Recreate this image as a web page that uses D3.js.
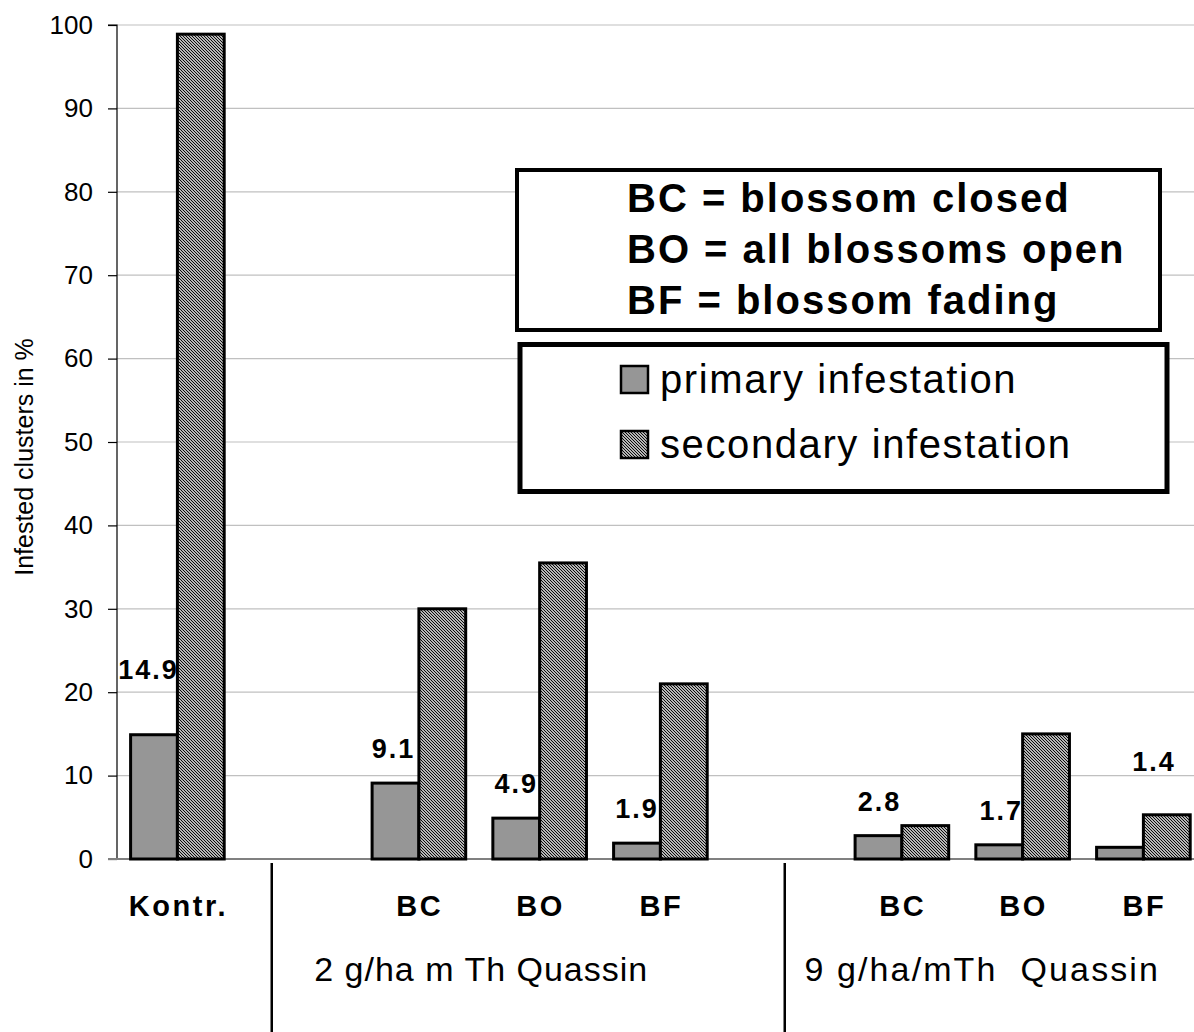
<!DOCTYPE html>
<html>
<head>
<meta charset="utf-8">
<script src="https://cdn.jsdelivr.net/npm/d3@7"></script>
<style>
  html, body { margin: 0; padding: 0; background: #fff; }
  svg { display: block; font-family: "Liberation Sans", Arial, sans-serif; }
</style>
</head>
<body>
<svg id="chart" width="1194" height="1032"></svg>
<script>
// ---- data ----
const slotKeys   = ["K", "gap1", "BC2", "BO2", "BF2", "gap2", "BC9", "BO9", "BF9"];
const slotLabels = ["Kontr.", "", "BC", "BO", "BF", "", "BC", "BO", "BF"];
const primary    = [14.9, null, 9.1, 4.9, 1.9, null, 2.8, 1.7, 1.4];
const secondary  = [98.9, null, 30.0, 35.5, 21.0, null, 4.0, 15.0, 5.3];
const seriesKeys = ["primary", "secondary"];
const seriesNames = ["primary infestation", "secondary infestation"];
const groupLabels = ["2 g/ha m Th Quassin", "9 g/ha/mTh  Quassin"];
const yTicks = [0, 10, 20, 30, 40, 50, 60, 70, 80, 90, 100];
const yTitle = "Infested clusters in %";
const noteLines = ["BC = blossom closed", "BO = all blossoms open", "BF = blossom fading"];

// label placement tweaks (layout, not data)
const labelLift  = [6.7, 0, 3, 3, 3, 0, 3, 3, 9.1];
const labelShift = [-5.5, 0, -2, 0, 0, 0, 1, 2, 34];

// ---- layout ----
const svg = d3.select("#chart");
const axisX = 117, y0px = 859, y100px = 25;
const slotW = 120.75;

const x0 = d3.scaleBand().domain(slotKeys).range([axisX, axisX + slotW * slotKeys.length]).padding(0);
const x1 = d3.scaleBand().domain(seriesKeys).range([13.6, 107.2]).padding(0);
const y = d3.scaleLinear().domain([0, 100]).range([y0px, y100px]);

// pattern
const defs = svg.append("defs");
const pat = defs.append("pattern").attr("id", "hatch").attr("patternUnits", "userSpaceOnUse")
  .attr("width", 3).attr("height", 3);
pat.append("rect").attr("width", 3).attr("height", 3).attr("fill", "#ffffff");
pat.append("path").attr("d", "M-1,-1 L4,4 M-1,2 L1,4 M2,-1 L4,1")
  .attr("stroke", "#000").attr("stroke-width", 1.1);

svg.append("rect").attr("width", 1194).attr("height", 1032).attr("fill", "#fff");

// gridlines
svg.append("g").selectAll("line").data(yTicks.filter(d => d > 0)).join("line")
  .attr("x1", axisX).attr("x2", 1194)
  .attr("y1", d => y(d)).attr("y2", d => y(d))
  .attr("stroke", "#c0c0c0").attr("stroke-width", 1.2);

// y axis
const yAxis = d3.axisLeft(y).tickValues(yTicks).tickSize(9).tickPadding(15).tickFormat(d3.format("d"));
const ga = svg.append("g").attr("transform", `translate(${axisX},0)`).call(yAxis);
ga.select(".domain").attr("stroke", "#000").attr("stroke-width", 1.2).attr("d", `M-9,${y100px}H0V${y0px}`);
ga.selectAll(".tick line").attr("stroke", "#000").attr("stroke-width", 1.2);
ga.selectAll(".tick text").attr("font-size", 26).attr("fill", "#000")
  .attr("font-family", "'Liberation Sans', Arial, sans-serif");

// baseline
svg.append("line").attr("x1", axisX - 9).attr("x2", 1194).attr("y1", y(0)).attr("y2", y(0))
  .attr("stroke", "#808080").attr("stroke-width", 2.2);

// y title
svg.append("text").attr("transform", `translate(33,457) rotate(-90)`)
  .attr("text-anchor", "middle").attr("font-size", 25).attr("fill", "#000").text(yTitle);

// bars
const rows = slotKeys.map((k, i) => ({ key: k, i, primary: primary[i], secondary: secondary[i] }))
  .filter(r => r.primary != null);
const gBars = svg.append("g");
rows.forEach(r => {
  seriesKeys.forEach(s => {
    gBars.append("rect")
      .attr("x", x0(r.key) + x1(s))
      .attr("y", y(r[s]))
      .attr("width", x1.bandwidth())
      .attr("height", y(0) - y(r[s]))
      .attr("fill", s === "primary" ? "#969696" : "url(#hatch)")
      .attr("stroke", "#000").attr("stroke-width", 3);
  });
});

// data labels (primary values)
svg.append("g").selectAll("text").data(rows).join("text")
  .attr("x", r => x0(r.key) + x1("primary") + x1.bandwidth() / 2 + labelShift[r.i])
  .attr("y", r => y(r.primary + labelLift[r.i]))
  .attr("text-anchor", "middle").attr("font-size", 27).attr("font-weight", "bold")
  .attr("letter-spacing", 2).attr("fill", "#000")
  .text(r => d3.format(".1f")(r.primary));

// category labels
svg.append("g").selectAll("text").data(slotKeys.filter((k, i) => slotLabels[i])).join("text")
  .attr("x", k => x0(k) + x0.bandwidth() / 2 + 1)
  .attr("y", 916)
  .attr("text-anchor", "middle").attr("font-size", 29).attr("font-weight", "bold")
  .attr("letter-spacing", 2.6).attr("fill", "#000")
  .text(k => slotLabels[slotKeys.indexOf(k)]);

// group labels
const groupSpans = [["gap1", "BF2"], ["gap2", "BF9"]];
const groupDx = [2, 20];
const groupSpacing = [1, 2.1];
svg.append("g").selectAll("text").data(groupLabels).join("text")
  .attr("x", (d, i) => (x0(groupSpans[i][0]) + x0(groupSpans[i][1]) + x0.bandwidth()) / 2 + groupDx[i])
  .attr("y", 981)
  .attr("text-anchor", "middle").attr("font-size", 34).attr("letter-spacing", (d, i) => groupSpacing[i])
  .attr("fill", "#000").style("white-space", "pre")
  .text(d => d);

// dividers
const dividerX = [x0("gap1") + 34, x0("gap2") + 64];
svg.append("g").selectAll("line").data(dividerX).join("line")
  .attr("x1", d => d).attr("x2", d => d).attr("y1", 863).attr("y2", 1032)
  .attr("stroke", "#000").attr("stroke-width", 2.5);

// note box
svg.append("rect").attr("x", 517).attr("y", 170).attr("width", 643).attr("height", 160)
  .attr("fill", "#fff").attr("stroke", "#000").attr("stroke-width", 4);
svg.append("g").selectAll("text").data(noteLines).join("text")
  .attr("x", 627).attr("y", (d, i) => 212 + i * 51)
  .attr("font-size", 40).attr("font-weight", "bold").attr("letter-spacing", 2)
  .attr("fill", "#000").text(d => d);

// legend box
svg.append("rect").attr("x", 520).attr("y", 344.5).attr("width", 647).attr("height", 147)
  .attr("fill", "#fff").attr("stroke", "#000").attr("stroke-width", 5);
const lg = svg.append("g").selectAll("g").data(seriesKeys).join("g")
  .attr("transform", (d, i) => `translate(621,${393 + i * 65})`);
lg.append("rect").attr("x", 0).attr("y", -27).attr("width", 27).attr("height", 27)
  .attr("fill", d => d === "primary" ? "#969696" : "url(#hatch)")
  .attr("stroke", "#000").attr("stroke-width", 2.5);
lg.append("text").attr("x", 39).attr("y", 0)
  .attr("font-size", 40).attr("letter-spacing", 1.6).attr("fill", "#000")
  .text((d, i) => seriesNames[i]);
</script>
</body>
</html>
